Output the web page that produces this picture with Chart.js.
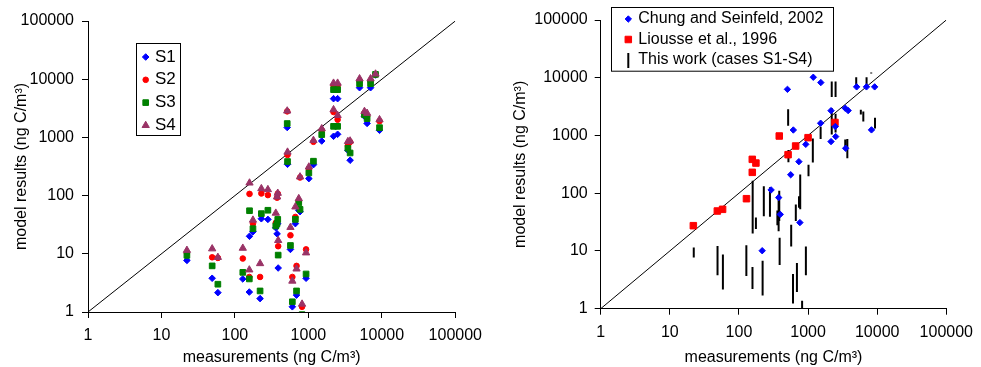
<!DOCTYPE html>
<html><head><meta charset="utf-8">
<script src="https://cdn.jsdelivr.net/npm/chart.js@4.4.1/dist/chart.umd.min.js"></script>
<style>
html,body{margin:0;padding:0;background:#fff;overflow:hidden;}
#wrap{position:relative;width:981px;height:367px;}
.c{position:absolute;top:0;}
</style></head><body>
<div id="wrap">
<div class="c" style="left:0;width:490px;height:367px"><canvas id="left" width="490" height="367"></canvas></div>
<div class="c" style="left:490px;width:491px;height:367px"><canvas id="right" width="491" height="367"></canvas></div>
</div>
<script>
// ---- data ----
const measured = [22.2, 49, 58.6, 128, 158, 176, 157, 229, 220, 281, 360, 375, 383, 388, 515, 520, 570, 605, 665, 690, 740, 770, 820, 930, 1015, 1172, 1520, 2200, 2500, 2200, 2500, 3450, 3700, 4975, 5800, 6300, 7020, 8200, 9300];
const s1 = [7.7, 3.8, 2.15, 3.7, 20, 24, 2.2, 40, 1.7, 39, 28, 22, 33, 5.7, 1480, 345, 11.9, 1.23, 33, 1.95, 56, 53, 0.8, 3.8, 196, 340, 867, 4630, 4630, 1045, 1130, 600, 405, 7140, 2300, 1740, 7140, 11800, 1325];
const s2 = [10.3, 8.7, 8.5, 8.3, 107, 33, 4.0, 109, 4.0, 102, 34, 92, 108, 13.5, 2800, 500, 20.8, 4.0, 43, 6.2, 79, 205, 1.23, 11.9, 290, 840, 1320, 7830, 7830, 2730, 2020, 720, 835, 9300, 2600, 2300, 9300, 12000, 1900];
const s3 = [9.4, 6.2, 3.0, 4.8, 55, 27, 3.7, 49, 2.3, 56, 30, 33, 39, 9.5, 1730, 385, 13.9, 1.5, 39, 2.3, 75, 58, 0.9, 4.5, 245, 390, 1117, 6610, 6610, 1550, 1550, 650, 540, 8370, 2450, 2100, 8370, 12100, 1470];
const s4 = [11.5, 12.2, 8.7, 12.5, 165, 38, 5.3, 132, 6.8, 127, 50, 95, 110, 17, 2850, 560, 28.5, 3.4, 64, 5.5, 89, 210, 1.37, 10.4, 311, 890, 1415, 8570, 8570, 3000, 2390, 850, 870, 10190, 2800, 2600, 10190, 12300, 2020];
const seriesNames = ['S1', 'S2', 'S3', 'S4'];

const chungMeas  = [503, 1190, 1530, 612, 927, 737, 561, 1520, 2150, 2150, 2480, 2510, 3450, 3800, 3500, 5040, 7000, 9190, 8270, 292, 376, 396, 762, 217];
const chungModel = [6300, 10200, 8250, 1244, 702, 352, 209, 1630, 2690, 784, 1430, 957, 2970, 2700, 600, 6950, 6950, 6950, 1250, 114, 84, 43, 31, 10.1];
const liousseMeas  = [21.9, 48.7, 58, 128.5, 156, 156, 176, 383, 514, 661, 1000, 2450];
const liousseModel = [27.4, 49.2, 52.6, 80.4, 230, 386, 333, 979, 465, 657, 916, 1680];
const rightNames = ['Chung and Seinfeld, 2002', 'Liousse et al., 1996', 'This work (cases S1-S4)'];

const tickValues = [1, 10, 100, 1000, 10000, 100000];
const xTitle = 'measurements (ng C/m\u00B3)';
const yTitle = 'model results (ng C/m\u00B3)';

// ---- helpers ----
const FONT = '"Liberation Sans", Arial, Helvetica, sans-serif';
const pts = (xs, ys) => xs.map((x, i) => ({x: x, y: ys[i]}));

function axis(pos, title, size, tickPad, titlePad) {
  return {
    type: 'logarithmic', position: pos, min: tickValues[0], max: tickValues[tickValues.length - 1],
    afterBuildTicks: s => { s.ticks = tickValues.map(v => ({value: v})); },
    afterFit: s => { if (pos === 'left') s.width = size; else s.height = size; },
    ticks: { callback: v => String(v), color: '#000', font: {family: FONT, size: 16}, padding: tickPad, autoSkip: false, maxRotation: 0 },
    grid: { display: true, drawOnChartArea: false, drawTicks: true, tickLength: 6, color: '#000', lineWidth: 1 },
    border: { display: true, color: '#000', width: 1 },
    title: { display: true, text: title, color: '#000', font: {family: FONT, size: 16}, padding: titlePad }
  };
}

const boxLegend = {
  id: 'boxLegend',
  afterDraw(chart, args, o) {
    if (!o || !o.items) return;
    const ctx = chart.ctx;
    ctx.save();
    ctx.strokeStyle = '#000'; ctx.lineWidth = 1;
    ctx.strokeRect(Math.round(o.x) + 0.5, Math.round(o.y) + 0.5, o.w, o.h);
    o.items.forEach((idx, i) => {
      const ds = chart.data.datasets[idx];
      const y = o.rowY0 + i * o.rowStep;
      ctx.save();
      if (ds.legendLine) {
        ctx.strokeStyle = ds.borderColor; ctx.lineWidth = ds.borderWidth;
        ctx.beginPath(); ctx.moveTo(o.markerX, y - 7); ctx.lineTo(o.markerX, y + 8); ctx.stroke();
      } else {
        ctx.fillStyle = ds.backgroundColor; ctx.strokeStyle = ds.borderColor; ctx.lineWidth = 1;
        Chart.helpers.drawPoint(ctx, {pointStyle: ds.pointStyle, radius: ds.pointRadius, borderWidth: 1, rotation: 0}, o.markerX, y);
      }
      ctx.restore();
      ctx.fillStyle = '#000'; ctx.font = o.fontSize + 'px ' + FONT; ctx.textBaseline = 'middle'; ctx.textAlign = 'left';
      ctx.fillText(ds.label, o.textX, y);
    });
    ctx.restore();
  }
};

// ---- left chart ----
const styles = [
  {c: '#0000FF', p: 'rectRot', r: 3.3},
  {c: '#FF0000', p: 'circle', r: 2.8},
  {c: '#008000', p: 'rect', r: 4},
  {c: '#993366', p: 'triangle', r: 4.2}
];
const leftSeries = [s1, s2, s3, s4];
const leftDatasets = leftSeries.map((arr, k) => ({
  label: seriesNames[k], data: pts(measured, arr),
  pointStyle: styles[k].p, pointRadius: styles[k].r, pointHoverRadius: styles[k].r,
  backgroundColor: styles[k].c, borderColor: styles[k].c, borderWidth: 1,
  order: 4 - k, showLine: false
}));
leftDatasets.push({
  label: '1:1', data: [{x: tickValues[0], y: tickValues[0]}, {x: tickValues[5], y: tickValues[5]}],
  showLine: true, borderColor: '#000', borderWidth: 1, pointRadius: 0, order: 10
});

new Chart(document.getElementById('left'), {
  type: 'scatter',
  data: { datasets: leftDatasets },
  options: {
    responsive: false, animation: false, devicePixelRatio: 1,
    layout: { padding: {left: 0, top: 21, right: 34, bottom: 0} },
    scales: {
      x: axis('bottom', xTitle, 55, 8, {top: 0, bottom: 0}),
      y: axis('left', yTitle, 88, 8, {top: 12, bottom: 0})
    },
    plugins: {
      legend: {display: false}, tooltip: {enabled: false},
      boxLegend: { x: 136, y: 43, w: 44, h: 92, rowY0: 57, rowStep: 22.8, markerX: 145.7, textX: 155, fontSize: 17, items: [0, 1, 2, 3] }
    }
  },
  plugins: [boxLegend]
});

// ---- right chart ----
const rangeData = [];
measured.forEach((m, i) => {
  const vals = [s1[i], s2[i], s3[i], s4[i]];
  rangeData.push({x: m, y: Math.min(...vals)});
  rangeData.push({x: m, y: Math.max(...vals)});
  rangeData.push({x: m, y: null});
});

new Chart(document.getElementById('right'), {
  type: 'scatter',
  data: { datasets: [
    { label: rightNames[0], data: pts(chungMeas, chungModel), pointStyle: 'rectRot', pointRadius: 3.2, pointHoverRadius: 3.2,
      backgroundColor: '#0000FF', borderColor: '#0000FF', borderWidth: 1, order: 1 },
    { label: rightNames[1], data: pts(liousseMeas, liousseModel), pointStyle: 'rect', pointRadius: 4.6, pointHoverRadius: 4.6,
      backgroundColor: '#FF0000', borderColor: '#FF0000', borderWidth: 1, order: 2 },
    { label: rightNames[2], data: rangeData, showLine: true, spanGaps: false, pointRadius: 0, pointHoverRadius: 0,
      borderColor: '#000', backgroundColor: '#000', borderWidth: 2, legendLine: true, order: 3 },
    { label: '1:1', data: [{x: tickValues[0], y: tickValues[0]}, {x: tickValues[5], y: tickValues[5]}],
      showLine: true, borderColor: '#000', borderWidth: 1, pointRadius: 0, order: 10 }
  ]},
  options: {
    responsive: false, animation: false, devicePixelRatio: 1,
    layout: { padding: {left: 0, top: 20, right: 28.7, bottom: 0} },
    scales: {
      x: axis('bottom', xTitle, 58.3, 8, {top: 0, bottom: 0}),
      y: axis('left', yTitle, 110.7, 7, {top: 21, bottom: 0})
    },
    plugins: {
      legend: {display: false}, tooltip: {enabled: false},
      boxLegend: { x: 121.3, y: 7.3, w: 222, h: 63.7, rowY0: 19, rowStep: 20.5, markerX: 138.3, textX: 148.3, fontSize: 16, items: [0, 1, 2] }
    }
  },
  plugins: [boxLegend]
});
</script>
</body></html>
